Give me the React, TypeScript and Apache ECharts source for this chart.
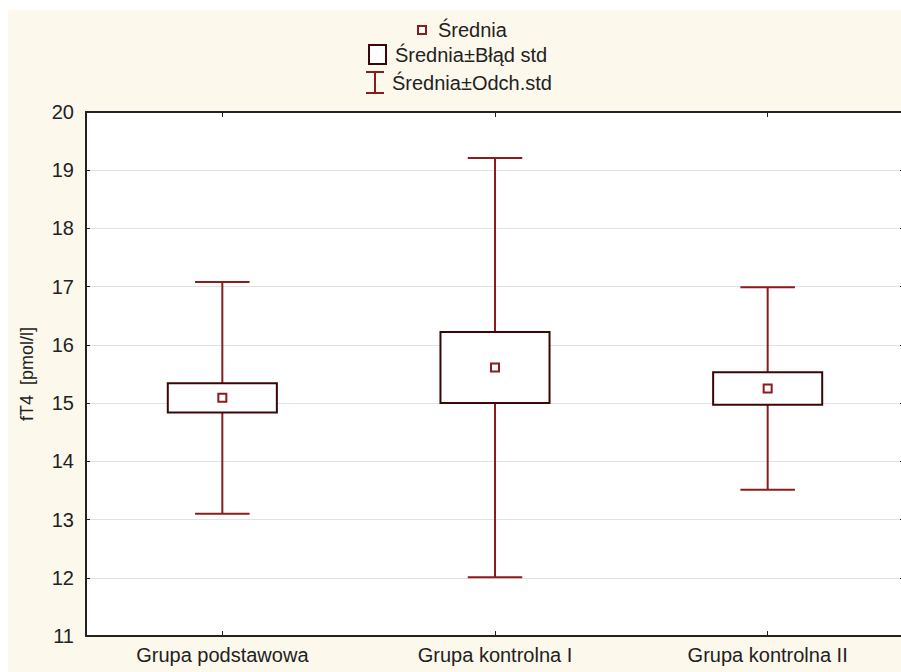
import React, { useEffect, useRef } from "react";
import * as echarts from "echarts";

// Groups and their fT4 summary statistics
const groups = ["Grupa podstawowa", "Grupa kontrolna I", "Grupa kontrolna II"];
const means = [15.09, 15.61, 15.25];
const stdErrors = [0.25, 0.61, 0.28];
const stdDevs = [1.99, 3.6, 1.74];

const yTicks = [11, 12, 13, 14, 15, 16, 17, 18, 19, 20];

const WHISKER = "#8a1c1c";
const BOX = "#3a0606";
const TEXT = "#222222";
const BG = "#fdf8ec";
const FONT = "'Liberation Sans', Arial, sans-serif";

export default function App() {
  const ref = useRef<HTMLDivElement>(null);

  useEffect(() => {
    if (!ref.current) return;
    const chart = echarts.init(ref.current, undefined, { renderer: "svg" });

    const data = groups.map((_, i) => [i, means[i], stdErrors[i], stdDevs[i]]);

    chart.setOption({
      animation: false,
      backgroundColor: BG,
      textStyle: { fontFamily: FONT },
      grid: {
        left: 78,
        right: 4,
        top: 102,
        bottom: 36,
        show: true,
        backgroundColor: "#ffffff",
        borderWidth: 0,
      },
      xAxis: [
        {
          type: "category",
          data: groups,
          axisLine: { lineStyle: { color: TEXT, width: 2 } },
          axisTick: { show: true, inside: true, alignWithLabel: true, length: 5, lineStyle: { color: TEXT } },
          axisLabel: { color: TEXT, fontSize: 20, margin: 9, fontFamily: FONT },
          splitLine: { show: false },
        },
        {
          type: "category",
          position: "top",
          data: groups,
          axisLine: { lineStyle: { color: TEXT, width: 2 } },
          axisTick: { show: true, inside: true, alignWithLabel: true, length: 5, lineStyle: { color: TEXT } },
          axisLabel: { show: false },
          splitLine: { show: false },
        },
      ],
      yAxis: [
        {
          type: "value",
          min: yTicks[0],
          max: yTicks[yTicks.length - 1],
          interval: 1,
          name: "fT4  [pmol/l]",
          nameLocation: "middle",
          nameGap: 50,
          nameRotate: 90,
          nameTextStyle: { color: TEXT, fontSize: 18, fontFamily: FONT },
          axisLine: { show: true, lineStyle: { color: TEXT, width: 2 } },
          axisTick: { show: true, inside: true, length: 4, lineStyle: { color: TEXT } },
          axisLabel: { color: TEXT, fontSize: 20, margin: 12, fontFamily: FONT },
          splitLine: { show: true, lineStyle: { color: "#e2e2e2", width: 1 } },
        },
        {
          type: "value",
          position: "right",
          min: yTicks[0],
          max: yTicks[yTicks.length - 1],
          interval: 1,
          axisLine: { show: true, lineStyle: { color: TEXT, width: 2 } },
          axisTick: { show: true, inside: true, length: 4, lineStyle: { color: TEXT } },
          axisLabel: { show: false },
          splitLine: { show: false },
        },
      ],
      series: [
        {
          type: "custom",
          xAxisIndex: 0,
          yAxisIndex: 0,
          data,
          encode: { x: 0, y: 1 },
          renderItem: (params: any, api: any) => {
            const idx = api.value(0);
            const m = api.value(1);
            const se = api.value(2);
            const sd = api.value(3);
            const band = api.size([1, 0])[0];
            const [cx, yMean] = api.coord([idx, m]);
            const ySdTop = api.coord([idx, m + sd])[1];
            const ySdBot = api.coord([idx, m - sd])[1];
            const ySeTop = api.coord([idx, m + se])[1];
            const ySeBot = api.coord([idx, m - se])[1];
            const boxW = band * 0.4;
            const capW = band * 0.2;
            const mk = 8;
            const lineStyle = { stroke: WHISKER, lineWidth: 2 };
            return {
              type: "group",
              children: [
                { type: "line", shape: { x1: cx, y1: ySdTop, x2: cx, y2: ySdBot }, style: lineStyle },
                { type: "line", shape: { x1: cx - capW / 2, y1: ySdTop, x2: cx + capW / 2, y2: ySdTop }, style: lineStyle },
                { type: "line", shape: { x1: cx - capW / 2, y1: ySdBot, x2: cx + capW / 2, y2: ySdBot }, style: lineStyle },
                {
                  type: "rect",
                  shape: { x: cx - boxW / 2, y: ySeTop, width: boxW, height: ySeBot - ySeTop },
                  style: { fill: "#ffffff", stroke: BOX, lineWidth: 2 },
                },
                {
                  type: "rect",
                  shape: { x: cx - mk / 2, y: yMean - mk / 2, width: mk, height: mk },
                  style: { fill: "#ffffff", stroke: WHISKER, lineWidth: 2 },
                },
              ],
            };
          },
          z: 5,
        },
      ],
      graphic: [
        // legend: mean marker
        { type: "rect", shape: { x: 410, y: 16, width: 8, height: 8 }, style: { fill: "#ffffff", stroke: WHISKER, lineWidth: 2 } },
        { type: "text", x: 430, y: 20, style: { text: "Średnia", fill: TEXT, font: `20px ${FONT}`, verticalAlign: "middle" } },
        // legend: mean ± standard error
        { type: "rect", shape: { x: 361, y: 35, width: 17, height: 19 }, style: { fill: "#ffffff", stroke: BOX, lineWidth: 2 } },
        { type: "text", x: 387, y: 45, style: { text: "Średnia±Błąd std", fill: TEXT, font: `20px ${FONT}`, verticalAlign: "middle" } },
        // legend: mean ± standard deviation
        { type: "line", shape: { x1: 367, y1: 62, x2: 367, y2: 83 }, style: { stroke: WHISKER, lineWidth: 2 } },
        { type: "line", shape: { x1: 358, y1: 62, x2: 376, y2: 62 }, style: { stroke: WHISKER, lineWidth: 2 } },
        { type: "line", shape: { x1: 358, y1: 83, x2: 376, y2: 83 }, style: { stroke: WHISKER, lineWidth: 2 } },
        { type: "text", x: 384, y: 73, style: { text: "Średnia±Odch.std", fill: TEXT, font: `20px ${FONT}`, verticalAlign: "middle" } },
      ],
    });

    return () => chart.dispose();
  }, []);

  // Fixed placement lets the plot run past the right edge of the window without scrolling.
  return (
    <div
      ref={ref}
      style={{ position: "fixed", left: 8, top: 10, width: 900, height: 662, background: BG }}
    />
  );
}
